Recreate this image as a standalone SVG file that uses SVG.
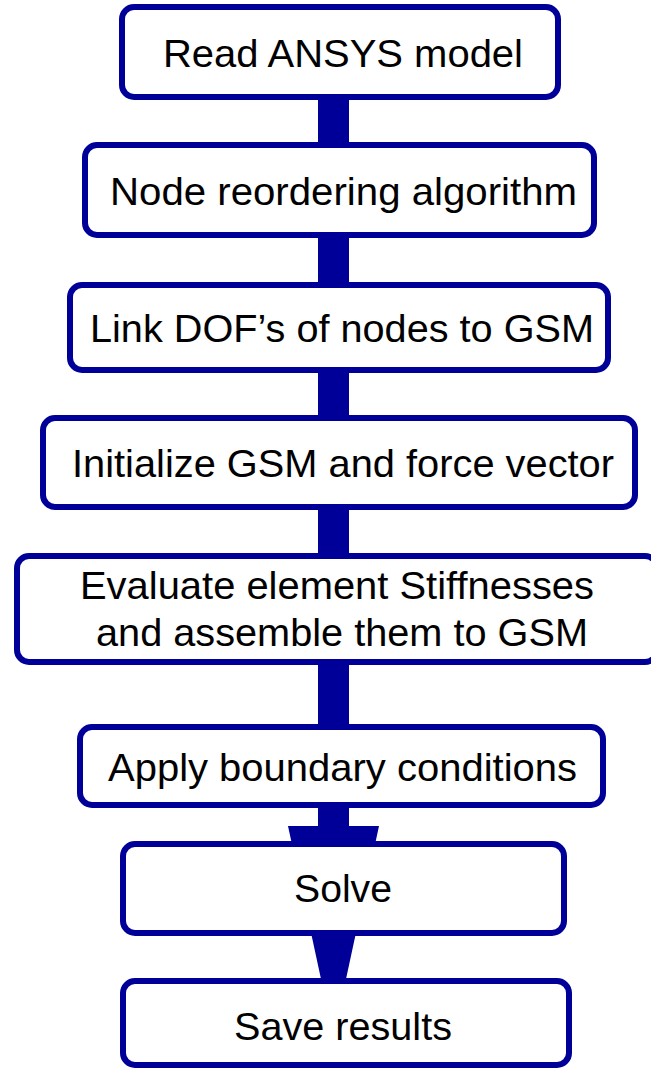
<svg xmlns="http://www.w3.org/2000/svg" width="651" height="1071" viewBox="0 0 651 1071">
<style>
.box{fill:#ffffff;stroke:#000099;stroke-width:6}
.bar{fill:#000099}
text{font-family:"Liberation Sans",Arial,sans-serif;font-size:39px;fill:#000000;text-anchor:start}
</style>
<rect width="651" height="1071" fill="#ffffff"/>
<g id="connectors">
<rect class="bar" x="318" y="98" width="31" height="48"/>
<rect class="bar" x="318" y="236" width="31" height="50"/>
<rect class="bar" x="318" y="371" width="31" height="48"/>
<rect class="bar" x="318" y="508" width="31" height="49"/>
<rect class="bar" x="318" y="660" width="31" height="68"/>
<polygon class="bar" points="318,806 349,806 349,826 379,826 333.5,1037 288,826 318,826"/>
</g>
<g id="n1"><rect class="box" x="122" y="7" width="436" height="90" rx="12"/><text x="163" y="67" textLength="360" lengthAdjust="spacingAndGlyphs">Read ANSYS model</text></g>
<g id="n2"><rect class="box" x="85" y="145" width="509" height="90" rx="12"/><text x="110" y="205" textLength="467" lengthAdjust="spacingAndGlyphs">Node reordering algorithm</text></g>
<g id="n3"><rect class="box" x="70" y="285" width="538" height="85" rx="12"/><text x="90" y="342" textLength="504" lengthAdjust="spacingAndGlyphs">Link DOF’s of nodes to GSM</text></g>
<g id="n4"><rect class="box" x="43" y="418" width="592" height="89" rx="12"/><text x="72" y="477" textLength="542" lengthAdjust="spacingAndGlyphs">Initialize GSM and force vector</text></g>
<g id="n5"><rect class="box" x="17" y="556" width="640" height="106" rx="12"/><text x="80" y="599" textLength="514" lengthAdjust="spacingAndGlyphs">Evaluate element Stiffnesses</text><text x="96" y="646" textLength="492" lengthAdjust="spacingAndGlyphs">and assemble them to GSM</text></g>
<g id="n6"><rect class="box" x="80" y="727" width="523" height="78" rx="12"/><text x="108" y="781" textLength="469" lengthAdjust="spacingAndGlyphs">Apply boundary conditions</text></g>
<g id="n7"><rect class="box" x="123" y="844" width="441" height="89" rx="12"/><text x="294" y="902" textLength="98" lengthAdjust="spacingAndGlyphs">Solve</text></g>
<g id="n8"><rect class="box" x="123" y="981" width="446" height="84" rx="12"/><text x="234" y="1040" textLength="218" lengthAdjust="spacingAndGlyphs">Save results</text></g>
</svg>
